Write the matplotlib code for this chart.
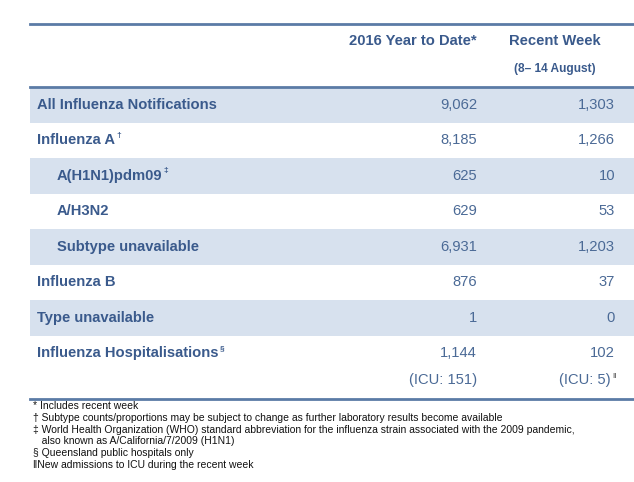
import matplotlib.pyplot as plt

# table content
labels = ["All Influenza Notifications", "Influenza A", "A(H1N1)pdm09", "A/H3N2",
          "Subtype unavailable", "Influenza B", "Type unavailable", "Influenza Hospitalisations"]
marks = ["", "\u2020", "\u2021", "", "", "", "", "\u00a7"]
indent = [False, False, True, True, True, False, False, False]
shaded = [True, False, True, False, True, False, True, False]
ytd = ["9,062", "8,185", "625", "629", "6,931", "876", "1", "1,144"]
week = ["1,303", "1,266", "10", "53", "1,203", "37", "0", "102"]
footnotes = [
    "* Includes recent week",
    "\u2020 Subtype counts/proportions may be subject to change as further laboratory results become available",
    "\u2021 World Health Organization (WHO) standard abbreviation for the influenza strain associated with the 2009 pandemic,",
    "   also known as A/California/7/2009 (H1N1)",
    "\u00a7 Queensland public hospitals only",
    "\u2016New admissions to ICU during the recent week",
]

W, H = 634, 482
plt.rcParams["font.family"] = ["Liberation Sans", "DejaVu Sans"]
fig = plt.figure(figsize=(W / 100, H / 100), dpi=100)
ax = fig.add_axes([0, 0, 1, 1])
ax.set_xlim(0, W)
ax.set_ylim(H, 0)
ax.axis("off")

dark = "#3a5a8c"
num = "#4b6a96"
line = "#5b7ba6"
shade = "#d7e1ee"

x0, x1 = 30, W
c1, c2 = 477, 615
top, head = 24, 87
rh = 35.5
fs = 10.6

ax.plot([x0, x1], [top, top], color=line, lw=2)
ax.text(c1, 41, "2016 Year to Date*", ha="right", va="center", color=dark,
        fontsize=fs, fontweight="bold")
ax.text(555, 41, "Recent Week", ha="center", va="center", color=dark,
        fontsize=fs, fontweight="bold")
ax.text(555, 69, "(8\u2013 14 August)", ha="center", va="center", color=dark,
        fontsize=8.6, fontweight="bold")

for i, lab in enumerate(labels):
    y = head + i * rh
    if shaded[i]:
        ax.add_patch(plt.Rectangle((x0, y), x1 - x0, rh, color=shade, lw=0))
    yc = y + rh / 2
    lx = 57 if indent[i] else 37
    t = ax.text(lx, yc, lab, ha="left", va="center", color=dark,
                fontsize=fs, fontweight="bold")
    if marks[i]:
        fig.canvas.draw()
        bb = t.get_window_extent()
        ax.text(bb.x1 + 1, yc - 5, marks[i], ha="left", va="center",
                color=dark, fontsize=6, fontweight="bold")
    ax.text(c1, yc, ytd[i], ha="right", va="center", color=num, fontsize=fs)
    ax.text(c2, yc, week[i], ha="right", va="center", color=num, fontsize=fs)

ax.plot([x0, x1], [head, head], color=line, lw=2)
ax.text(c1, 380, "(ICU: 151)", ha="right", va="center", color=num, fontsize=fs)
ax.text(c2 - 4, 380, "(ICU: 5)", ha="right", va="center", color=num, fontsize=fs)
ax.text(c2 - 3, 377, "\u2016", ha="left", va="center", color="#222222", fontsize=6)
bottom = 399
ax.plot([x0, x1], [bottom, bottom], color=line, lw=2)

for k, f in enumerate(footnotes):
    ax.text(33, 406 + k * 11.8, f, ha="left", va="center", color="#111111",
            fontsize=7.5)

fig.savefig("out.png", dpi=100)
